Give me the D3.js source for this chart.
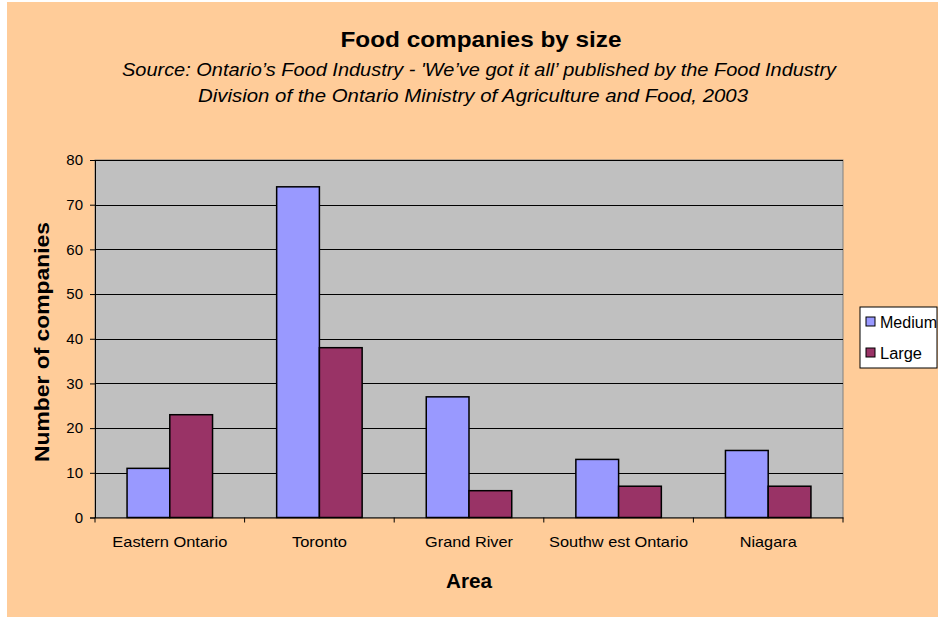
<!DOCTYPE html>
<html>
<head>
<meta charset="utf-8">
<script src="https://cdn.jsdelivr.net/npm/d3@7/dist/d3.min.js"></script>
<style>
  html, body { margin: 0; padding: 0; background: #ffffff; }
  svg { display: block; }
  text { font-family: "Liberation Sans", Arial, sans-serif; fill: #000; }
</style>
</head>
<body>
<svg id="chart" width="939" height="617"></svg>
<script>
// Chart data
const areas = ["Eastern Ontario", "Toronto", "Grand River", "Southwest Ontario", "Niagara"];
const seriesNames = ["Medium", "Large"];
const mediumValues = [11, 74, 27, 13, 15];
const largeValues = [23, 38, 6, 7, 7];
const yTicks = [0, 10, 20, 30, 40, 50, 60, 70, 80];
const areaLabels = ["Eastern Ontario", "Toronto", "Grand River", "Southw est Ontario", "Niagara"];
const areaLabelWidths = [115, 55, 88, 139, 57];

const seriesColors = ["#9999ff", "#993366"];
const seriesValues = [mediumValues, largeValues];

const svg = d3.select("#chart");
const W = 939, H = 617;

// Chart background
svg.append("rect")
  .attr("x", 7).attr("y", 2).attr("width", W - 8).attr("height", H - 2)
  .attr("fill", "#ffcc99");

const plot = { left: 95, right: 843, top: 160, bottom: 517.5 };

const x = d3.scaleBand()
  .domain(areas)
  .range([plot.left, plot.right])
  .paddingInner(0).paddingOuter(0);

// Two bars per category with a 150% gap width
const barW = x.bandwidth() / 3.5;
const xs = d3.scaleBand()
  .domain(seriesNames)
  .range([0.75 * barW, 0.75 * barW + 2 * barW]);

const y = d3.scaleLinear().domain([0, 80]).range([plot.bottom, plot.top]);

// Plot area
svg.append("rect")
  .attr("x", plot.left).attr("y", plot.top)
  .attr("width", plot.right - plot.left).attr("height", plot.bottom - plot.top)
  .attr("fill", "#c0c0c0")
  .attr("stroke", "#808080").attr("stroke-width", 1);

// Gridlines
svg.append("g")
  .selectAll("line")
  .data(yTicks.filter(d => d > 0))
  .join("line")
  .attr("x1", plot.left).attr("x2", plot.right)
  .attr("y1", d => Math.round(y(d)) + 0.5).attr("y2", d => Math.round(y(d)) + 0.5)
  .attr("stroke", "#000").attr("stroke-width", 1);

// Bars
const rows = areas.map((a, i) => ({ area: a, values: seriesNames.map((s, j) => ({ s, v: seriesValues[j][i], c: seriesColors[j] })) }));
svg.append("g")
  .selectAll("g")
  .data(rows)
  .join("g")
  .attr("transform", d => `translate(${x(d.area)},0)`)
  .selectAll("rect")
  .data(d => d.values)
  .join("rect")
  .attr("x", d => xs(d.s))
  .attr("y", d => y(d.v))
  .attr("width", xs.bandwidth())
  .attr("height", d => y(0) - y(d.v))
  .attr("fill", d => d.c)
  .attr("stroke", "#000").attr("stroke-width", 1.5);

// Y axis
const yAxis = svg.append("g")
  .attr("transform", `translate(${plot.left},0)`)
  .call(d3.axisLeft(y).tickValues(yTicks).tickSize(5).tickPadding(7).tickFormat(d3.format("d")));
yAxis.select(".domain").attr("stroke", "#000");
yAxis.selectAll(".tick line").attr("stroke", "#000");
yAxis.selectAll("text").style("font-size", "15px").attr("fill", "#000");

// X axis
const xAxis = svg.append("g")
  .attr("transform", `translate(0,${plot.bottom})`)
  .call(d3.axisBottom(x).tickSize(0).tickPadding(19).tickFormat((d, i) => areaLabels[i]));
xAxis.select(".domain").attr("stroke", "#000");
xAxis.selectAll("text")
  .style("font-size", "15px").attr("fill", "#000")
  .attr("textLength", (d, i) => areaLabelWidths[i])
  .attr("lengthAdjust", "spacingAndGlyphs");
// Category separator ticks
svg.append("g")
  .selectAll("line")
  .data(d3.range(areas.length + 1))
  .join("line")
  .attr("x1", i => plot.left + i * x.bandwidth()).attr("x2", i => plot.left + i * x.bandwidth())
  .attr("y1", plot.bottom).attr("y2", plot.bottom + 5)
  .attr("stroke", "#000");

// Titles
svg.append("text")
  .attr("x", 481).attr("y", 47)
  .attr("text-anchor", "middle")
  .attr("textLength", 281).attr("lengthAdjust", "spacingAndGlyphs")
  .style("font-size", "22px").style("font-weight", "bold")
  .text("Food companies by size");
svg.append("text")
  .attr("x", 479).attr("y", 76)
  .attr("text-anchor", "middle")
  .attr("textLength", 714).attr("lengthAdjust", "spacingAndGlyphs")
  .style("font-size", "18px").style("font-style", "italic")
  .text("Source: Ontario\u2019s Food Industry - 'We\u2019ve got it all\u2019 published by the Food Industry");
svg.append("text")
  .attr("x", 473).attr("y", 102)
  .attr("text-anchor", "middle")
  .attr("textLength", 550).attr("lengthAdjust", "spacingAndGlyphs")
  .style("font-size", "18px").style("font-style", "italic")
  .text("Division of the Ontario Ministry of Agriculture and Food, 2003");

svg.append("text")
  .attr("transform", `translate(49,342) rotate(-90)`)
  .attr("text-anchor", "middle")
  .attr("textLength", 240).attr("lengthAdjust", "spacingAndGlyphs")
  .style("font-size", "20px").style("font-weight", "bold")
  .text("Number of companies");

svg.append("text")
  .attr("x", 469).attr("y", 588)
  .attr("text-anchor", "middle")
  .attr("textLength", 46).attr("lengthAdjust", "spacingAndGlyphs")
  .style("font-size", "20px").style("font-weight", "bold")
  .text("Area");

// Legend
const legend = svg.append("g").attr("transform", "translate(860,307)");
legend.append("rect")
  .attr("width", 77).attr("height", 61)
  .attr("fill", "#ffffff").attr("stroke", "#000").attr("stroke-width", 1);
seriesNames.forEach((s, i) => {
  const g = legend.append("g").attr("transform", `translate(6,${15 + i * 31})`);
  g.append("rect").attr("x", 0).attr("y", -5).attr("width", 9).attr("height", 9)
    .attr("fill", seriesColors[i]).attr("stroke", "#000");
  g.append("text").attr("x", 14).attr("y", 6)
    .attr("textLength", s === "Medium" ? 57 : 42).attr("lengthAdjust", "spacingAndGlyphs")
    .style("font-size", "16px").text(s);
});
</script>
</body>
</html>
